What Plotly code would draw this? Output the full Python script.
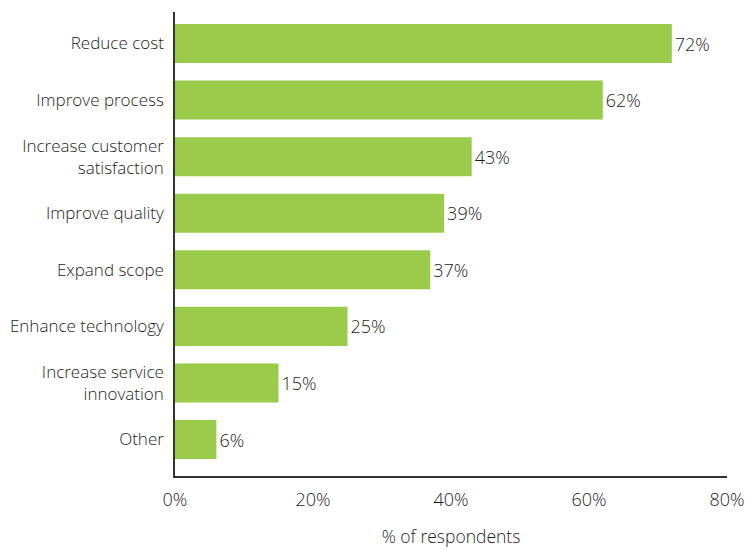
import plotly.graph_objects as go

categories = [
    "Reduce cost",
    "Improve process",
    "Increase customer<br>satisfaction",
    "Improve quality",
    "Expand scope",
    "Enhance technology",
    "Increase service<br>innovation",
    "Other",
]
values = [72, 62, 43, 39, 37, 25, 15, 6]
x_ticks = [0, 20, 40, 60, 80]
x_tick_labels = ["0%", "20%", "40%", "60%", "80%"]

BAR_COLOR = "#9BCB4B"
TEXT_COLOR = "#1E1E1E"
FONT = "Open Sans, Noto Sans, sans-serif"

fig = go.Figure(
    go.Bar(
        x=values,
        y=categories,
        orientation="h",
        width=0.69,
        marker=dict(color=BAR_COLOR, line=dict(width=0)),
        text=[f"{v}%" for v in values],
        textposition="outside",
        textfont=dict(family=FONT, size=18, color=TEXT_COLOR, weight=300),
        cliponaxis=False,
        hoverinfo="skip",
    )
)

fig.update_layout(
    width=755,
    height=550,
    margin=dict(l=175, r=28, t=12, b=74),
    plot_bgcolor="white",
    paper_bgcolor="white",
    font=dict(family=FONT, size=17, color=TEXT_COLOR, weight=300),
    showlegend=False,
)

fig.update_xaxes(
    range=[0, 80],
    tickvals=x_ticks,
    ticktext=x_tick_labels,
    tickfont=dict(size=18, weight=300),
    showgrid=False,
    zeroline=False,
    showline=True,
    linecolor="#333333",
    linewidth=1.5,
    ticks="",
    ticklabelstandoff=7,
    automargin=False,
    title=dict(text="% of respondents", standoff=20, font=dict(size=17.5, weight=300)),
)

fig.update_yaxes(
    categoryorder="array",
    categoryarray=categories[::-1],
    range=[-0.645, 7.557],
    showgrid=False,
    zeroline=False,
    showline=True,
    linecolor="#333333",
    linewidth=1.5,
    ticks="",
    ticklabelstandoff=6,
    automargin=False,
)

fig.write_html("out.html")
